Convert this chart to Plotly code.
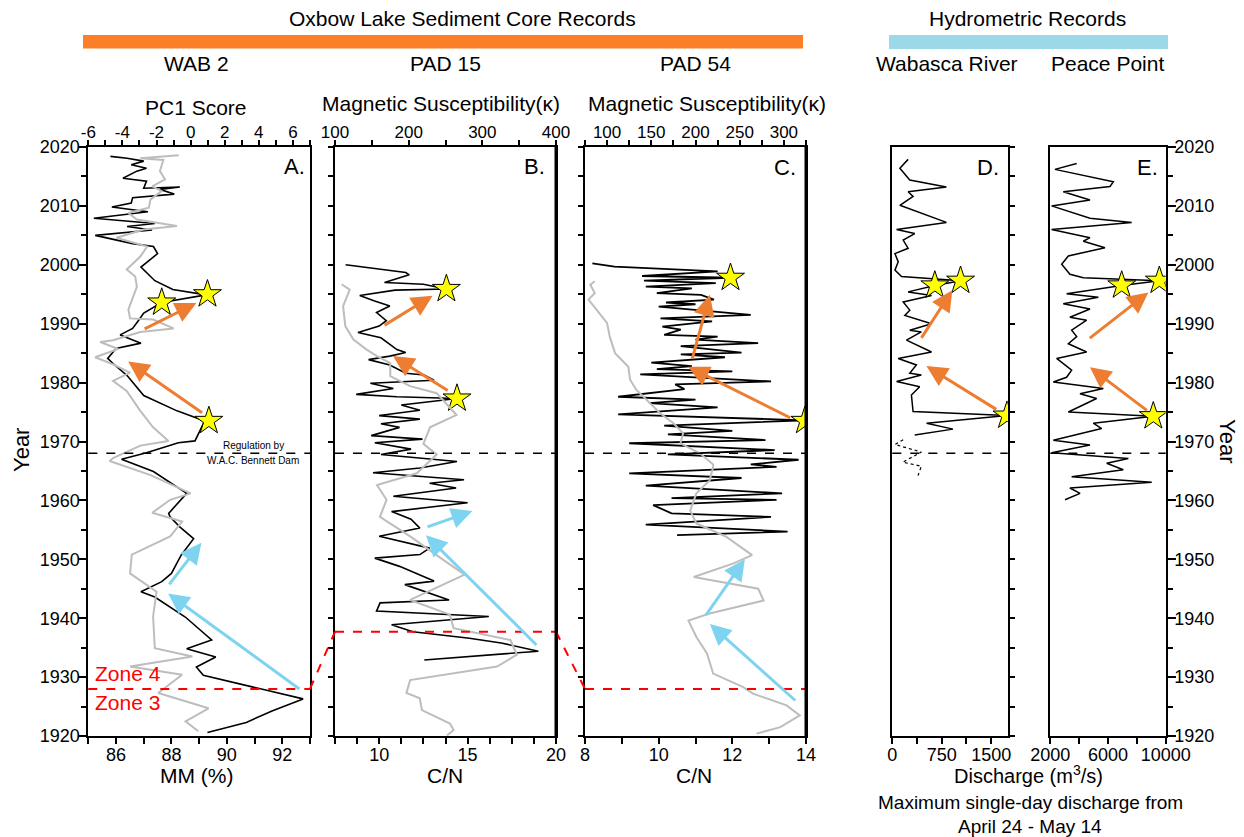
import plotly.graph_objects as go

# page is shown with an 8px body margin, so the figure is 8px smaller than the window
OFF = 8
W, H = 1244 - OFF, 837 - OFF
def PX(p): return (p - OFF) / W
def PY(p): return 1 - (p - OFF) / H

FONT = "Liberation Sans, Arial, sans-serif"
ORANGE = "#ED7D31"
BLUE = "#7DD3F0"
GRAY = "#BDBDBD"

# ---------------- Panel A: WAB 2 ----------------
A_blk_year = [2018.4, 2018.1, 2017.6, 2017.0, 2016.4, 2015.9, 2014.7, 2014.2, 2013.0, 2013.2, 2012.8, 2012.0,
              2011.4, 2010.5, 2009.8, 2009.0, 2007.9, 2007.0, 2006.5, 2005.9, 2005.0, 2003.6, 2003.1, 2001.9,
              1999.6, 1997.3, 1995.8, 1994.9, 1993.6, 1991.8, 1990.8, 1989.2, 1988.1, 1986.7, 1985.8, 1984.1,
              1983.2, 1981.2, 1977.8, 1975.2, 1973.5, 1970.1, 1969.8, 1968.1, 1967.0, 1964.9, 1961.2, 1957.8,
              1957.2, 1955.5, 1953.5, 1950.7, 1947.6, 1946.2, 1944.5, 1943.6, 1940.2, 1936.3, 1934.8, 1933.4,
              1931.7, 1930.3, 1928.3, 1926.3, 1924.3, 1922.3, 1920.6]
A_blk_mm = [85.8, 86.4, 87.0, 86.55, 87.1, 86.75, 86.25, 87.1, 87.0, 88.3, 87.6, 88.1,
            86.6, 86.55, 85.85, 87.15, 85.2, 87.4, 86.4, 87.3, 85.25, 86.6, 87.35, 87.5,
            86.9, 87.4, 88.05, 89.25, 87.65, 87.0, 86.85, 86.6, 86.15, 86.9, 86.0, 85.7,
            85.9, 86.4, 87.0, 88.2, 89.2, 88.85, 88.25, 87.1, 86.2, 87.35, 88.55, 87.9,
            87.95, 88.3, 88.8, 88.35, 88.0, 87.65, 86.9, 87.4, 88.5, 89.45, 88.55, 89.6,
            88.9, 89.15, 90.95, 92.75, 91.65, 90.7, 89.3]
A_gry_year = [2018.6, 2018.1, 2017.8, 2015.9, 2014.5, 2013.3, 2012.5, 2011.1, 2009.7, 2008.8, 2007.7, 2006.6,
              2006.0, 2004.6, 2003.1, 2001.4, 1999.2, 1998.0, 1996.3, 1994.6, 1992.4, 1990.9, 1990.7, 1989.2,
              1988.6, 1987.2, 1986.9, 1985.7, 1984.3, 1983.1, 1981.7, 1980.3, 1978.6, 1975.2, 1972.4, 1970.1,
              1969.3, 1967.2, 1966.7, 1964.3, 1961.2, 1960.1, 1957.9, 1956.4, 1953.9, 1950.8, 1947.6, 1944.5,
              1940.3, 1934.9, 1933.5, 1931.8, 1930.4, 1927.3, 1924.7, 1922.5, 1920.8]
A_gry_pc1 = [-0.7, -2.95, -1.6, -1.8, -1.5, -2.25, -1.7, -2.35, -2.45, -3.65, -3.15, -0.8,
             -2.75, -4.35, -2.55, -2.95, -3.75, -3.25, -3.15, -3.35, -3.65, -3.55, -2.2, -1.0,
             -2.95, -4.55, -5.3, -4.25, -5.6, -4.55, -3.55, -4.55, -3.75, -2.95, -2.2, -1.3,
             -2.95, -4.55, -4.75, -2.35, 0.0, -1.2, -2.25, -0.5, -1.2, -3.45, -3.55, -2.0,
             -2.2, -2.1, 0.1, -3.55, -0.5, -1.9, 1.05, -0.3, 0.45]
A_star_year = [1995.0, 1993.6, 1973.5]
A_star_mm = [89.3, 87.65, 89.35]

# ---------------- Panel B: PAD 15 ----------------
B_blk_year = [2000.0, 1999.5, 1999.1, 1998.7, 1998.3, 1997.0, 1996.7, 1995.9, 1995.7, 1994.8, 1993.9, 1993.0,
              1991.9, 1990.5, 1989.6, 1988.5, 1987.6, 1985.6, 1985.1, 1984.5, 1983.9, 1983.0, 1981.6, 1981.3,
              1980.4, 1979.9, 1979.0, 1978.0, 1977.6, 1977.3, 1976.2, 1975.3, 1974.4, 1973.8, 1973.0, 1972.4,
              1971.0, 1970.4, 1969.8, 1968.7, 1967.8, 1966.6, 1965.5, 1964.7, 1963.5, 1962.9, 1962.1, 1960.7,
              1959.6, 1958.1, 1956.8, 1955.3, 1953.9, 1951.9, 1950.8, 1950.2, 1948.8, 1946.3, 1945.7, 1943.1,
              1942.6, 1941.2, 1940.3, 1938.9, 1937.7, 1936.6, 1935.8, 1934.4, 1932.9]
B_blk_cn = [8.1, 9.3, 10.4, 11.5, 11.7, 10.3, 12.5, 13.8, 10.9, 8.9, 9.7, 10.6,
            9.85, 10.4, 10.0, 8.8, 10.1, 11.0, 11.5, 10.6, 9.4, 10.6, 11.5, 12.55,
            13.1, 9.5, 10.8, 8.7, 11.0, 14.4, 11.25, 12.3, 10.0, 12.3, 10.1, 11.15,
            9.55, 12.45, 9.75, 11.8, 10.1, 14.4, 12.3, 9.65, 14.8, 12.85, 14.35, 10.8,
            15.0, 10.7, 11.8, 12.3, 10.0, 12.85, 12.3, 9.75, 11.15, 13.1, 11.45, 13.95,
            10.05, 9.85, 16.2, 10.7, 11.9, 15.1, 16.9, 19.0, 12.55]
B_gry_year = [1996.7, 1995.8, 1993.0, 1989.6, 1987.3, 1985.6, 1984.5, 1983.3, 1981.1, 1979.4, 1978.2, 1974.5,
              1972.4, 1969.6, 1967.8, 1965.7, 1964.6, 1962.6, 1960.1, 1957.2, 1953.9, 1949.9, 1947.4, 1943.1,
              1940.6, 1938.3, 1936.3, 1933.8, 1931.8, 1929.5, 1927.3, 1926.4, 1924.4, 1922.1, 1921.0, 1920.1]
B_gry_ms = [109, 120, 111, 114, 125, 143, 157, 175, 175, 202, 238, 265,
            229, 220, 238, 220, 211, 157, 170, 161, 202, 247, 276, 202,
            256, 261, 338, 347, 320, 202, 197, 215, 218, 256, 261, 252]
B_star_year = [1995.9, 1977.3]
B_star_cn = [13.8, 14.4]

# ---------------- Panel C: PAD 54 ----------------
C_blk_year = [2000.25, 1999.7, 1998.9, 1998.1, 1997.8, 1997.3, 1996.9, 1996.3, 1996.0, 1995.2, 1994.9, 1994.1,
              1993.6, 1993.3, 1992.9, 1991.5, 1990.9, 1990.4, 1989.5, 1989.0, 1988.1, 1987.8, 1987.3, 1986.7,
              1986.2, 1985.1, 1984.8, 1984.3, 1983.4, 1982.8, 1982.3, 1981.9, 1981.4, 1980.2, 1979.7, 1978.9,
              1977.6, 1977.1, 1976.5, 1975.8, 1974.6, 1973.6, 1972.7, 1971.8, 1971.2, 1970.25, 1969.7, 1968.55,
              1967.8, 1966.9, 1966.1, 1965.7, 1964.6, 1963.8, 1962.5, 1961.2, 1960.4, 1960.1, 1959.2, 1957.8,
              1957.2, 1955.9, 1954.7, 1954.1]
C_blk_cn = [8.2, 8.8, 11.6, 9.55, 11.95, 9.6, 11.55, 9.65, 10.9, 9.95, 11.15, 11.5,
            10.2, 11.0, 10.0, 12.5, 10.05, 11.45, 10.1, 10.6, 10.15, 11.6, 11.0, 12.7,
            10.6, 12.25, 10.6, 11.8, 9.8, 10.9, 9.95, 12.0, 9.5, 13.05, 10.45, 10.7,
            8.9, 11.0, 9.75, 11.6, 8.9, 13.97, 10.15, 12.0, 10.25, 12.9, 9.2, 13.15,
            10.25, 13.8, 12.5, 13.2, 9.2, 12.25, 9.65, 13.35, 10.35, 13.2, 9.85, 10.35,
            13.05, 9.65, 13.5, 10.5]
C_gry_year = [1997.2, 1996.6, 1995.2, 1994.1, 1992.4, 1990.1, 1987.8, 1985.0, 1982.7, 1980.5, 1978.8, 1976.5,
              1974.8, 1973.1, 1971.4, 1969.7, 1968.0, 1966.1, 1965.7, 1963.4, 1961.2, 1958.3, 1956.1, 1953.8,
              1950.7, 1949.3, 1947.0, 1945.0, 1943.0, 1940.8, 1939.6, 1936.8, 1934.0, 1930.6, 1928.3, 1927.2,
              1925.2, 1923.5, 1921.5, 1920.4]
C_gry_ms = [86, 81, 86, 79, 88, 100, 103, 109, 124, 126, 133, 149,
            160, 175, 186, 183, 205, 220, 220, 216, 201, 194, 201, 235,
            264, 243, 198, 271, 277, 216, 192, 201, 213, 220, 254, 265,
            303, 318, 296, 269]
C_star_year = [1997.8, 1973.5]
C_star_cn = [11.95, 13.97]

# ---------------- Panel D: Wabasca River ----------------
D_year = [2017.9, 2016.4, 2014.4, 2013.2, 2012.4, 2011.6, 2010.1, 2007.2, 2006.0, 2005.3, 2004.2, 2002.8,
          2001.9, 2000.5, 1999.1, 1998.0, 1997.3, 1996.5, 1995.4, 1994.8, 1993.7, 1992.3, 1991.4, 1990.0,
          1988.9, 1988.6, 1987.2, 1985.2, 1984.1, 1983.0, 1981.6, 1981.3, 1980.2, 1979.3, 1977.9, 1975.1,
          1974.4, 1973.1, 1972.1, 1971.1]
D_q = [240, 115, 265, 820, 240, 315, 115, 820, 65, 340, 165, 240,
       40, 90, 40, 140, 1035, 645, 240, 595, 165, 265, 190, 595,
       265, 440, 215, 595, 90, 365, 265, 440, 65, 415, 290, 315,
       1740, 520, 920, 340]
D_gap_year = [1970.3, 1969.5, 1968.2, 1966.5, 1965.8, 1964.2]
D_gap_q = [165, 40, 440, 160, 440, 390]
D_star_year = [1997.3, 1996.5, 1974.4]
D_star_q = [1035, 645, 1740]

# ---------------- Panel E: Peace Point ----------------
E_year = [2017.2, 2016.2, 2014.1, 2013.3, 2012.4, 2011.0, 2010.0, 2007.9, 2007.2, 2006.0, 2004.6, 2004.0,
          2002.9, 2001.5, 2000.1, 1998.4, 1997.8, 1997.3, 1996.5, 1995.1, 1994.5, 1993.4, 1992.5, 1991.1,
          1990.6, 1988.9, 1987.8, 1986.6, 1985.2, 1984.1, 1982.1, 1980.9, 1980.1, 1979.0, 1978.1, 1977.3,
          1975.0, 1974.3, 1973.1, 1972.2, 1970.2, 1969.4, 1968.1, 1967.1, 1966.3, 1965.2, 1964.0, 1963.1,
          1962.1, 1961.2, 1960.1]
E_q = [3830, 2320, 6370, 6140, 2900, 4750, 2090, 4750, 7640, 2090, 4750, 4290,
       5790, 3250, 2790, 3360, 4290, 9560, 6950, 3130, 5330, 2900, 4750, 3360,
       4520, 3480, 3830, 3250, 4520, 2440, 3480, 3130, 2210, 5680, 4060, 5210,
       3250, 9140, 4980, 5560, 2210, 4750, 2090, 7410, 5910, 7060, 3480, 9030,
       3360, 4060, 3020]
E_star_year = [1997.3, 1996.5, 1974.3]
E_star_q = [9560, 6950, 9140]

# tick labels
A_top_ticks = [-6, -4, -2, 0, 2, 4, 6]
E_ticks = [2000, 6000, 10000]

# event lines / zones
DAM_YEAR = 1968
ZONE_A, ZONE_B, ZONE_C = 1928, 1937.7, 1928

# arrows: (tail_x, tail_y, head_x, head_y)
A_arrows_or = [(86.98, 1989.0, 88.9, 1993.5), (89.16, 1974.7, 86.44, 1983.6)]
A_arrows_bl = [(87.88, 1945.5, 89.08, 1952.8), (92.67, 1927.8, 87.88, 1944.2)]
B_arrows_or = [(10.22, 1989.6, 13.02, 1994.75), (13.96, 1978.5, 10.78, 1984.5)]
B_arrows_bl = [(12.65, 1955.4, 15.27, 1958.2), (18.98, 1935.2, 12.65, 1954.1)]
C_arrows_or = [(10.9, 1983.8, 11.39, 1994.9), (13.61, 1973.9, 10.8, 1982.7)]
C_arrows_bl = [(11.26, 1940.3, 12.34, 1950.0), (13.75, 1925.8, 11.39, 1939.0)]
D_arrows_or = [(427, 1987.35, 910, 1995.7), (1599, 1975.3, 518, 1982.8)]
E_arrows_or = [(4635, 1987.35, 8795, 1995.3), (8795, 1975.1, 4750, 1982.6)]

# ---------------- geometry (window pixels) ----------------
PANELS = {
    "A": (88.3, 310.0),
    "B": (335.0, 556.0),
    "C": (585.0, 806.0),
    "D": (892.3, 1007.7),
    "E": (1050.3, 1165.7),
}
Y_TOP, Y_BOT = 147.0, 736.0
ydom = [PY(Y_BOT), PY(Y_TOP)]
def dom(k):
    a, b = PANELS[k]
    return [PX(a), PX(b)]

fig = go.Figure()

def line(x, y, xa, ya, color="black", width=1.5, dash=None):
    fig.add_trace(go.Scatter(x=x, y=y, xaxis=xa, yaxis=ya, mode="lines",
                             line=dict(color=color, width=width, dash=dash),
                             hoverinfo="skip", showlegend=False))

def stars(x, y, xa, ya):
    fig.add_trace(go.Scatter(x=x, y=y, xaxis=xa, yaxis=ya, mode="markers",
                             marker=dict(symbol="star", size=21, color="#FFFF00",
                                         line=dict(color="black", width=1)),
                             hoverinfo="skip", showlegend=False))

# Panel A
line(A_gry_pc1, A_gry_year, "x2", "y", GRAY, 2)
line(A_blk_mm, A_blk_year, "x", "y", "black", 1.6)
# Panel B
line(B_gry_ms, B_gry_year, "x4", "y2", GRAY, 2)
line(B_blk_cn, B_blk_year, "x3", "y2", "black", 1.6)
# Panel C
line(C_gry_ms, C_gry_year, "x6", "y3", GRAY, 2)
line(C_blk_cn, C_blk_year, "x5", "y3", "black", 1.8)
# Panel D
line(D_q, D_year, "x7", "y4", "black", 1.5)
line(D_gap_q, D_gap_year, "x7", "y4", "black", 1.2, "dot")
# Panel E
line(E_q, E_year, "x8", "y5", "black", 1.5)

stars(A_star_mm, A_star_year, "x", "y")
stars(B_star_cn, B_star_year, "x3", "y2")
stars(C_star_cn, C_star_year, "x5", "y3")
stars(D_star_q, D_star_year, "x7", "y4")
stars(E_star_q, E_star_year, "x8", "y5")

tickfont = dict(family=FONT, size=18, color="black")
common = dict(showgrid=False, zeroline=False, showline=True, linecolor="black", linewidth=2,
              ticks="outside", tickcolor="black", tickwidth=1.5, tickfont=tickfont,
              automargin=False, ticklabelstandoff=-5)

def bottom_x(k, rng, tickvals, minor_dtick, minor_tick0, anchor, ticktext=None):
    d = dict(domain=dom(k), range=rng, anchor=anchor, side="bottom", mirror=True,
             tickmode="array", tickvals=tickvals, ticklen=6,
             minor=dict(ticks="outside", dtick=minor_dtick, tick0=minor_tick0, ticklen=6,
                        tickcolor="black", tickwidth=1.5),
             **common)
    d["ticktext"] = ticktext if ticktext else [str(v) for v in tickvals]
    return d

def top_x(over, anchor, rng, tickvals, minor_dtick, minor_tick0):
    d = dict(overlaying=over, anchor=anchor, side="top", range=rng,
             tickmode="array", tickvals=tickvals, ticktext=[str(v) for v in tickvals], ticklen=6,
             minor=dict(ticks="outside", dtick=minor_dtick, tick0=minor_tick0, ticklen=6,
                        tickcolor="black", tickwidth=1.5),
             **common)
    d["showline"] = False
    d["tickfont"] = dict(family=FONT, size=17, color="black")
    return d

layout = dict(
    width=W, height=H, autosize=False,
    margin=dict(l=0, r=0, t=0, b=0, pad=0, autoexpand=False),
    paper_bgcolor="white", plot_bgcolor="white",
    showlegend=False,
    xaxis=bottom_x("A", [85, 93], [86, 88, 90, 92], 1, 85, "y"),
    xaxis2=top_x("x", "y", [-6, 7], A_top_ticks, 1, -6),
    xaxis3=bottom_x("B", [7.5, 20], [10, 15, 20], 1.25, 7.5, "y2"),
    xaxis4=top_x("x3", "y2", [100, 400], [100, 200, 300, 400], 50, 100),
    xaxis5=bottom_x("C", [8, 14], [8, 10, 12, 14], 1, 8, "y3"),
    xaxis6=top_x("x5", "y3", [75, 325], [100, 150, 200, 250, 300], 25, 75),
    xaxis7=bottom_x("D", [0, 1750], [0, 750, 1500], 375, 0, "y4"),
    xaxis8=bottom_x("E", [2000, 10000], E_ticks, 2000, 2000, "y5"),
)

def yax(anchor, side, labels, **kw):
    d = dict(domain=ydom, range=[1920, 2020], anchor=anchor, side=side, mirror=True,
             showticklabels=labels, **common)
    d.update(kw)
    return d

layout["yaxis"] = yax("x", "left", True, dtick=10, tick0=1920, ticklen=8,
                      minor=dict(ticks="outside", dtick=5, tick0=1920, ticklen=5,
                                 tickcolor="black", tickwidth=1.5))
layout["yaxis2"] = yax("x3", "left", False, dtick=5, tick0=1920, ticklen=5)
layout["yaxis3"] = yax("x5", "left", False, dtick=5, tick0=1920, ticklen=5)
layout["yaxis4"] = yax("x7", "right", False, dtick=5, tick0=1920, ticklen=5)
layout["yaxis5"] = yax("x8", "right", True, dtick=10, tick0=1920, ticklen=8,
                       minor=dict(ticks="outside", dtick=5, tick0=1920, ticklen=5,
                                  tickcolor="black", tickwidth=1.5))
fig.update_layout(**layout)

shapes = []
# dam regulation dashed lines
for xa, ya in [("x", "y"), ("x3", "y2"), ("x5", "y3"), ("x7", "y4"), ("x8", "y5")]:
    shapes.append(dict(type="line", xref=f"{xa} domain", yref=ya, x0=0, x1=1,
                       y0=DAM_YEAR, y1=DAM_YEAR, line=dict(color="black", width=1.5, dash="dash")))
# zone boundary (red dashed, connecting across panels)
red = dict(color="#FF0000", width=2, dash="dash")
segs = [
    (PANELS["A"][0], ZONE_A, PANELS["A"][1], ZONE_A),
    (PANELS["A"][1], ZONE_A, PANELS["B"][0], ZONE_B),
    (PANELS["B"][0], ZONE_B, PANELS["B"][1], ZONE_B),
    (PANELS["B"][1], ZONE_B, PANELS["C"][0], ZONE_C),
    (PANELS["C"][0], ZONE_C, PANELS["C"][1], ZONE_C),
]
for x0, y0, x1, y1 in segs:
    shapes.append(dict(type="line", xref="paper", yref="y", x0=PX(x0), x1=PX(x1),
                       y0=y0, y1=y1, line=red))
# thicker right borders on B and C
for k in ["B", "C"]:
    shapes.append(dict(type="line", xref="paper", yref="paper", x0=PX(PANELS[k][1]), x1=PX(PANELS[k][1]),
                       y0=ydom[0], y1=ydom[1], line=dict(color="black", width=3)))
# header bars
shapes.append(dict(type="rect", xref="paper", yref="paper", x0=PX(83), x1=PX(803), y0=PY(48.5), y1=PY(35),
                   fillcolor="#FA7F28", line=dict(width=0)))
shapes.append(dict(type="rect", xref="paper", yref="paper", x0=PX(889), x1=PX(1168), y0=PY(49), y1=PY(35),
                   fillcolor="#9BD8E8", line=dict(width=0)))
fig.update_layout(shapes=shapes)

ann = []
def arrow(t, xr, yr, color):
    tx, ty, hx, hy = t
    ann.append(dict(x=hx, y=hy, ax=tx, ay=ty, xref=xr, yref=yr, axref=xr, ayref=yr,
                    showarrow=True, arrowhead=2, arrowsize=1.4, arrowwidth=3,
                    arrowcolor=color, standoff=0, text=""))
for t in A_arrows_or: arrow(t, "x", "y", ORANGE)
for t in A_arrows_bl: arrow(t, "x", "y", BLUE)
for t in B_arrows_or: arrow(t, "x3", "y2", ORANGE)
for t in B_arrows_bl: arrow(t, "x3", "y2", BLUE)
for t in C_arrows_or: arrow(t, "x5", "y3", ORANGE)
for t in C_arrows_bl: arrow(t, "x5", "y3", BLUE)
for t in D_arrows_or: arrow(t, "x7", "y4", ORANGE)
for t in E_arrows_or: arrow(t, "x8", "y5", ORANGE)

def text(s, px, py, size=21, color="black", xanchor="center", angle=0):
    ann.append(dict(text=s, x=PX(px), y=PY(py), xref="paper", yref="paper", showarrow=False,
                    xanchor=xanchor, yanchor="middle", textangle=angle,
                    font=dict(family=FONT, size=size, color=color)))

text("Oxbow Lake Sediment Core Records", 462, 18.5)
text("Hydrometric Records", 1027, 18.5)
text("WAB 2", 196, 63)
text("PAD 15", 445, 63)
text("PAD 54", 695, 63)
text("Wabasca River", 947, 63)
text("Peace Point", 1107, 63)
text("PC1 Score", 196, 107)
text("Magnetic Susceptibility(κ)", 441, 104)
text("Magnetic Susceptibility(κ)", 707, 104)
text("MM (%)", 197, 775)
text("C/N", 445, 775)
text("C/N", 694, 775)
text("Discharge (m<sup>3</sup>/s)", 1028, 774, size=20)
text("Maximum single-day discharge from", 1030, 802, size=19)
text("April 24 - May 14", 1030, 826, size=19)
text("Year", 21, 450, size=22, angle=-90)
text("Year", 1228, 441, size=22, angle=90)
text("A.", 294, 166, size=22)
text("B.", 534, 166, size=22)
text("C.", 785, 168, size=22)
text("D.", 988, 167, size=22)
text("E.", 1147, 167, size=22)
text("Regulation by", 253, 445, size=10)
text("W.A.C. Bennett Dam", 253, 461, size=10)
text("Zone 4", 93, 673, size=21, color="#FF0000", xanchor="left")
text("Zone 3", 93, 702, size=21, color="#FF0000", xanchor="left")

fig.update_layout(annotations=ann)
fig.write_html("out.html")
